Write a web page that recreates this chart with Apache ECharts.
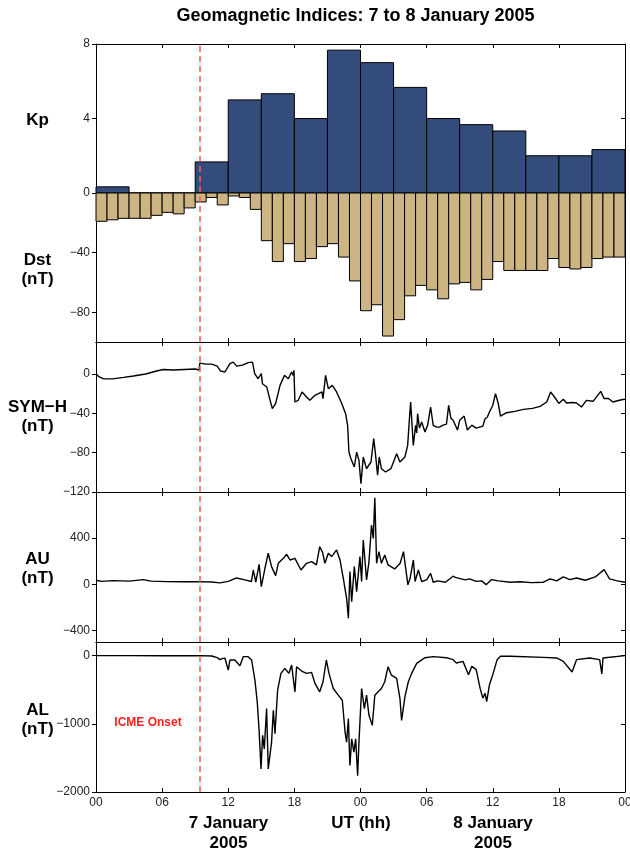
<!DOCTYPE html>
<html>
<head>
<meta charset="utf-8">
<script src="https://cdn.jsdelivr.net/npm/echarts@6/dist/echarts.min.js"></script>
<style>
html,body{margin:0;padding:0;background:#fff;}
#chart{width:630px;height:852px;}
</style>
</head>
<body>
<div id="chart"></div>
<script>
// ---------------- DATA ----------------
const ICME_ONSET = 9.42; // hours UT, 7 Jan 2005
const xTickLabels = ['00','06','12','18','00','06','12','18','00'];

// Kp, 3-hourly, 7-8 Jan 2005
const kpStartHours = [0,3,6,9,12,15,18,21,24,27,30,33,36,39,42,45];
const kpValues = [0.33,0,0,1.67,5.0,5.33,4.0,7.67,7.0,5.67,4.0,3.67,3.33,2.0,2.0,2.33];

// Dst, hourly (nT)
const dstStartHours = [0,1,2,3,4,5,6,7,8,9,10,11,12,13,14,15,16,17,18,19,20,21,22,23,
  24,25,26,27,28,29,30,31,32,33,34,35,36,37,38,39,40,41,42,43,44,45,46,47];
const dstValues = [-19,-18,-17,-17,-17,-15,-13,-14,-10,-6,-3,-8,-2,-3,-11,-32,-46,-34,-46,-44,-36,-34,-43,-59,
  -79,-75,-96,-85,-69,-62,-65,-71,-61,-60,-65,-58,-46,-52,-52,-52,-52,-44,-50,-51,-50,-44,-43,-43];

// SYM-H (nT)
const symhHours = [0,0.3,0.7,1.5,2.5,3.4,4.5,5.5,6.1,7,8,9,9.35,9.42,10,10.5,11,11.3,11.7,12.15,12.45,12.76,13.3,13.8,14.2,
  14.4,14.7,15.0,15.1,15.5,15.8,16.0,16.3,16.7,17.1,17.45,17.75,17.9,17.96,18.05,18.35,18.7,19.1,19.4,19.87,20.5,20.6,20.83,
  21.08,21.44,21.83,22.3,22.65,22.83,22.95,23.13,23.44,23.65,23.86,24.04,24.25,24.55,24.95,25.2,25.37,25.55,25.7,25.9,26.28,
  26.76,27.28,27.58,28.03,28.28,28.43,28.55,28.79,29.0,29.1,29.18,29.35,29.55,29.85,30.09,30.36,30.6,30.9,31.2,31.5,31.8,32.0,32.2,32.4,32.8,33.0,33.4,
  33.7,34.1,34.5,35.1,35.3,35.5,35.7,36.0,36.25,36.5,36.7,37.25,38.0,38.8,39.6,40.3,40.9,41.25,41.6,42.0,42.4,42.7,43.2,43.6,44.05,44.5,45.1,45.8,
  46.1,46.5,46.9,47.4,47.8,48.0];
const symhValues = [0,-3,-5,-5,-3.5,-2,0,3,4.5,4,4.5,5,4,11,10,10,8,3,2,10.5,12,8,9,11.5,12,
  0.3,-4.8,0.3,-9.9,-13.3,-26.8,-35.3,-30,-11.6,-1.4,-4.8,2,-1.4,3.7,-28.5,-26.8,-18.3,-23.4,-26.8,-21.7,-18.3,-25.1,-1.4,
  -15,-11.6,-18.3,-30,-40.4,-52.2,-79.4,-86.1,-94.6,-79.4,-87.8,-111.6,-84.4,-96.3,-89.5,-65.8,-82.7,-103,-84.4,-96.3,-99.7,
  -96.3,-81,-89.5,-84.4,-72.6,-47.2,-28.5,-72.6,-52.2,-60,-40.4,-55,-48.9,-59,-52.2,-33.6,-52.2,-54,-53.9,-52,-51,-32,-45,-47,-57,-47,-42.8,
  -57,-52,-55,-53,-45.5,-44,-38.7,-32,-20,-30,-42.8,-39.4,-38,-36,-35,-33,-28.5,-18.3,-23.4,-30,-25.8,-29.5,-29,-29.5,-33.6,-26.8,-27.8,-17.7,
  -25,-25,-28.5,-27,-26,-25.8];

// AU (nT)
const auHours = [0,0.5,1.5,3,4.3,5,6.4,8,9.4,10.5,11.25,12,12.76,13.5,14.1,14.27,14.5,14.8,15.0,15.33,15.63,15.93,16.3,16.54,
  17.0,17.3,17.6,18.05,18.6,19.1,19.56,20.0,20.3,20.56,20.77,21.08,21.38,21.83,22.14,22.44,22.74,22.9,23.04,23.2,23.44,23.65,
  23.95,24.1,24.25,24.55,24.77,25.0,25.16,25.3,25.46,25.67,25.9,26.2,26.5,27.1,27.6,27.9,28.3,28.5,28.8,28.95,29.25,29.55,
  30.0,30.36,30.6,31.0,31.7,32.4,32.6,33.5,33.9,34.5,35.0,35.4,35.9,36.5,37.6,38.5,39.5,40.6,41.2,41.8,42.4,43.0,43.6,44.4,45.3,46.1,46.6,47.3,48];
const auValues = [35,25,32,28,41,28,23,22,23,20,12,25,55,38,24,124,18,173,-20,139,269,153,75,182,
  225,260,211,225,124,182,197,168,326,277,182,269,240,298,211,52,-121,-294,110,-150,153,-63,
  240,24,384,38,197,514,398,751,182,283,182,254,168,133,182,283,-5,52,211,24,124,24,
  38,95,18,30,18,70,60,38,47,25,30,-3,41,30,18,22,15,18,47,30,64,40,55,35,64,127,47,30,18];

// AL (nT)
const alHours = [0,3,6,9.42,10.5,11.0,11.25,11.5,11.7,12.0,12.15,12.6,13.06,13.36,13.8,14.12,14.42,14.63,14.8,14.97,15.12,
  15.27,15.48,15.63,15.78,15.93,16.09,16.24,16.48,16.78,17.14,17.5,17.75,18.05,18.2,18.66,19.1,19.56,19.87,20.3,20.6,20.9,
  21.14,21.53,21.98,22.35,22.6,22.74,22.9,23.04,23.2,23.4,23.56,23.74,23.86,24.1,24.35,24.55,24.77,25.07,25.3,25.6,25.9,
  26.2,26.5,26.8,27.28,27.58,27.73,28.03,28.34,28.64,29.1,29.85,30.6,31.8,32.4,32.7,33.3,33.8,34.1,34.5,34.85,35.1,35.3,
  35.45,35.7,36.0,36.4,36.7,37.6,40.6,41.8,42.4,43.2,43.6,44.8,45.7,45.9,46.0,48];
const alValues = [0,0,-2,0,-5,-30,-59,-40,-39,-211,-64,-64,-147,-15,-15,-64,-359,-678,-1096,-1661,-1170,
  -1367,-777,-1661,-1686,-1268,-801,-1145,-506,-261,-187,-261,-138,-531,-162,-226,-261,-246,-408,-531,-383,-64,
  -261,-482,-580,-654,-1121,-1268,-924,-1612,-1219,-1416,-1219,-1760,-1268,-482,-777,-580,-875,-1023,-580,-531,-482,
  -383,-162,-285,-334,-629,-949,-605,-383,-261,-113,-30,-15,-30,-59,-108,-84,-280,-157,-206,-477,-624,-551,
  -673,-428,-280,-59,-10,-10,-25,-34,-84,-241,-59,-34,-59,-270,-34,0];

// ---------------- CHART ----------------
const chart = echarts.init(document.getElementById('chart'), null, {renderer:'canvas'});
const FONT = '"Liberation Sans", Arial, Helvetica, sans-serif';
const AXIS_COLOR = '#000';
const LABEL_COLOR = '#222';
const fmtNum = v => v < 0 ? '\u2212' + Math.abs(v) : String(v);

const grids = [
  {left:96, top:44, width:529, height:298},
  {left:96, top:342, width:529, height:150},
  {left:96, top:492, width:529, height:150},
  {left:96, top:642, width:529, height:150}
].map(g => Object.assign(g, {containLabel:false, outerBoundsMode:'none'}));

const xAxes = [];
grids.forEach((g, i) => {
  xAxes.push({
    type:'value', gridIndex:i, min:0, max:48, interval:6, position:'bottom',
    axisLine:{show:true, onZero:false, lineStyle:{color:AXIS_COLOR, width:1}},
    axisTick:{show:true, inside:true, length:4, lineStyle:{color:AXIS_COLOR}},
    axisLabel:{show:i === 3, margin:5, color:LABEL_COLOR, fontSize:12, fontFamily:FONT,
      showMinLabel:true, showMaxLabel:true, hideOverlap:false,
      formatter: v => xTickLabels[Math.round(v / 6)]},
    splitLine:{show:false}
  });
});
grids.forEach((g, i) => {
  xAxes.push({
    type:'value', gridIndex:i, min:0, max:48, interval:6, position:'top',
    axisLine:{show:true, onZero:false, lineStyle:{color:AXIS_COLOR, width:1}},
    axisTick:{show:true, inside:true, length:4, lineStyle:{color:AXIS_COLOR}},
    axisLabel:{show:false}, splitLine:{show:false}
  });
});

function leftAxis(gridIndex, min, max, values, showLine) {
  return {
    type:'value', gridIndex, min, max, position:'left',
    axisLine:{show:showLine, onZero:false, lineStyle:{color:AXIS_COLOR, width:1}},
    axisTick:{show:true, inside:false, length:4, customValues:values, lineStyle:{color:AXIS_COLOR}},
    axisLabel:{show:true, customValues:values, margin:6, color:LABEL_COLOR, fontSize:12, fontFamily:FONT,
      formatter: fmtNum},
    splitLine:{show:false}
  };
}
function rightAxis(gridIndex, min, max, values) {
  return {
    type:'value', gridIndex, min, max, position:'right',
    axisLine:{show:true, onZero:false, lineStyle:{color:AXIS_COLOR, width:1}},
    axisTick:{show:true, inside:true, length:4, customValues:values, lineStyle:{color:AXIS_COLOR}},
    axisLabel:{show:false}, splitLine:{show:false}
  };
}

const yAxes = [
  leftAxis(0, -8, 8, [0,4,8], true),            // 0 Kp
  leftAxis(0, -100, 100, [-80,-40], false),      // 1 Dst
  rightAxis(0, -8, 8, [0,4,8]),                  // 2
  leftAxis(1, -120, 32.5, [-120,-80,-40,0], true), // 3 SYM-H
  rightAxis(1, -120, 32.5, [-120,-80,-40,0]),    // 4
  leftAxis(2, -500, 800, [-400,0,400], true),    // 5 AU
  rightAxis(2, -500, 800, [-400,0,400]),         // 6
  leftAxis(3, -2000, 200, [-2000,-1000,0], true),// 7 AL
  rightAxis(3, -2000, 200, [-2000,-1000,0])      // 8
];

const onsetLine = {
  symbol:'none', silent:true, z:6,
  label:{show:false},
  lineStyle:{color:'#FF5A5A', type:[6,4], width:1.5},
  data:[{xAxis:ICME_ONSET}]
};

function barRender(fill) {
  return function(params, api) {
    const x0 = api.value(0), x1 = api.value(1), v = api.value(2);
    const a = api.coord([x0, v]);
    const b = api.coord([x1, 0]);
    return {
      type:'rect',
      shape:{x:Math.min(a[0], b[0]), y:Math.min(a[1], b[1]),
             width:Math.abs(b[0] - a[0]), height:Math.abs(b[1] - a[1])},
      style:{fill:fill, stroke:'#000', lineWidth:1}
    };
  };
}

const kpData = kpValues.map((v, i) => [kpStartHours[i], kpStartHours[i] + 3, v]);
const dstData = dstValues.map((v, i) => [dstStartHours[i], dstStartHours[i] + 1, v]);
const pairs = (hs, vs) => vs.map((v, i) => [hs[i], v]);

function lineSeries(xi, yi, data) {
  return {
    type:'line', xAxisIndex:xi, yAxisIndex:yi, data:data,
    showSymbol:false, symbol:'none', silent:true, animation:false,
    lineStyle:{color:'#000', width:1.4}, z:3,
    markLine:onsetLine
  };
}

const series = [
  {type:'custom', xAxisIndex:0, yAxisIndex:0, data:kpData, renderItem:barRender('#344C7C'),
   encode:{x:[0,1], y:2}, silent:true, z:2},
  {type:'custom', xAxisIndex:0, yAxisIndex:1, data:dstData, renderItem:barRender('#CDB483'),
   encode:{x:[0,1], y:2}, silent:true, z:2, markLine:onsetLine},
  lineSeries(1, 3, pairs(symhHours, symhValues)),
  lineSeries(2, 5, pairs(auHours, auValues)),
  lineSeries(3, 7, pairs(alHours, alValues))
];

function txt(x, y, text, font, fill, lh) {
  return {
    type:'text', x:x, y:y, silent:true, z:100,
    style:{text:text, font:font, fill:fill || '#000',
      align:'center', verticalAlign:'middle', textAlign:'center', textVerticalAlign:'middle',
      lineHeight: lh || 20}
  };
}
const BOLD17 = 'bold 17px ' + FONT;

const graphics = [
  txt(355.5, 16, 'Geomagnetic Indices: 7 to 8 January 2005', 'bold 18px ' + FONT),
  txt(37.5, 120, 'Kp', BOLD17),
  txt(37.5, 269.5, 'Dst\n(nT)', BOLD17, '#000', 19),
  txt(37.5, 417, 'SYM\u2212H\n(nT)', BOLD17, '#000', 19),
  txt(37.5, 568.5, 'AU\n(nT)', BOLD17, '#000', 19),
  txt(37.5, 719.5, 'AL\n(nT)', BOLD17, '#000', 19),
  txt(148, 723, 'ICME Onset', 'bold 12px ' + FONT, '#FF2020'),
  txt(228.5, 833, '7 January\n2005', BOLD17, '#000', 20),
  txt(361, 823, 'UT (hh)', BOLD17),
  txt(493, 833, '8 January\n2005', BOLD17, '#000', 20)
];

chart.setOption({
  animation:false,
  backgroundColor:'#fff',
  grid:grids,
  xAxis:xAxes,
  yAxis:yAxes,
  series:series,
  graphic:graphics
});
</script>
</body>
</html>
